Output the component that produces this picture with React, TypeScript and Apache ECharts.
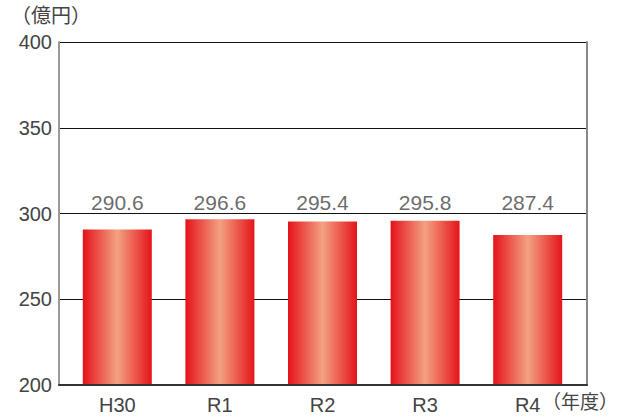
import React, { useEffect, useRef } from "react";
import * as echarts from "echarts";

const categories = ["H30", "R1", "R2", "R3", "R4"];
const values = [290.6, 296.6, 295.4, 295.8, 287.4];
const yTicks = { min: 200, max: 400, interval: 50 };
const yUnit = "（億円）";
const xUnit = "（年度）";

const FONT = "'Liberation Sans', 'Noto Sans CJK JP', sans-serif";
const CJK = "'Noto Sans CJK JP', sans-serif";

export default function App() {
  const ref = useRef<HTMLDivElement>(null);
  useEffect(() => {
    if (!ref.current) return;
    const chart = echarts.init(ref.current, null, { renderer: "svg" });
    const labelLevel = 306.4;
    chart.setOption({
      animation: false,
      backgroundColor: "#fff",
      textStyle: { fontFamily: FONT },
      grid: [
        { left: 59, right: 33, top: 42, bottom: 32 },
        { left: 66, right: 41, top: 42, bottom: 32 },
      ],
      xAxis: [
        {
          type: "category", gridIndex: 0, data: categories, z: 5,
          axisLabel: { show: false }, axisTick: { show: false },
          axisLine: { lineStyle: { color: "#333", width: 2 } },
        },
        {
          type: "category", gridIndex: 1, data: categories,
          axisLine: { show: false }, axisTick: { show: false },
          axisLabel: { fontSize: 20, color: "#444", margin: 10, fontFamily: FONT },
        },
      ],
      yAxis: [
        {
          type: "value", gridIndex: 0, min: yTicks.min, max: yTicks.max, interval: yTicks.interval,
          axisLine: { show: true, lineStyle: { color: "#999", width: 2 } },
          axisTick: { show: false },
          axisLabel: { fontSize: 20, color: "#444", margin: 7, fontFamily: FONT },
          splitLine: { lineStyle: { color: "#111", width: 1 } },
        },
        { type: "value", gridIndex: 1, min: yTicks.min, max: yTicks.max, show: false },
        {
          type: "value", gridIndex: 0, position: "right", min: yTicks.min, max: yTicks.max,
          axisLine: { show: true, lineStyle: { color: "#888", width: 2 } },
          axisTick: { show: false }, axisLabel: { show: false }, splitLine: { show: false },
        },
      ],
      series: [
        {
          type: "bar", xAxisIndex: 1, yAxisIndex: 1, data: values, barWidth: 69,
          itemStyle: {
            color: new echarts.graphic.LinearGradient(0, 0, 1, 0, [
              { offset: 0, color: "#e5121a" },
              { offset: 0.5, color: "#f3a181" },
              { offset: 1, color: "#e5141a" },
            ]),
          },
        },
        {
          type: "scatter", xAxisIndex: 1, yAxisIndex: 1, symbolSize: 0,
          data: categories.map((c) => [c, labelLevel]),
          label: {
            show: true, position: "inside", fontSize: 21, color: "#444", fontFamily: FONT,
            formatter: (p: any) => values[p.dataIndex].toFixed(1),
          },
        },
      ],
      graphic: [
        { type: "text", left: 11, top: 4, style: { text: yUnit, fontSize: 20, fill: "#444", fontFamily: CJK } },
        { type: "text", left: 542, top: 391, style: { text: xUnit, fontSize: 19, fill: "#444", fontFamily: CJK } },
      ],
    });
    return () => chart.dispose();
  }, []);
  return <div ref={ref} style={{ width: 620, height: 417, position: "absolute", left: 0, top: 0 }} />;
}
